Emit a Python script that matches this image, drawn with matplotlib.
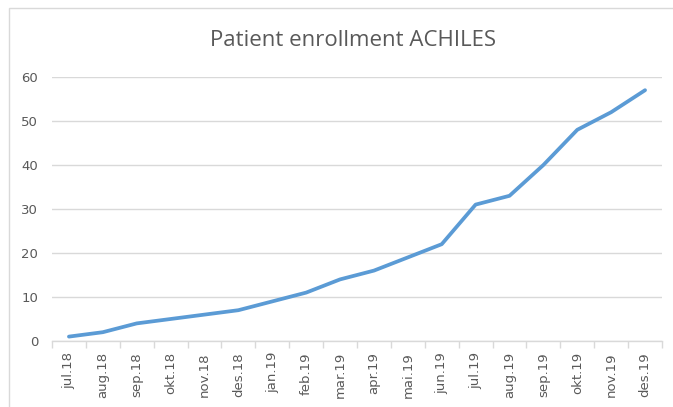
import matplotlib
matplotlib.use("Agg")
import matplotlib.pyplot as plt
import numpy as np
from matplotlib.patches import Rectangle

months = ["jul.18", "aug.18", "sep.18", "okt.18", "nov.18", "des.18",
          "jan.19", "feb.19", "mar.19", "apr.19", "mai.19", "jun.19",
          "jul.19", "aug.19", "sep.19", "okt.19", "nov.19", "des.19"]
patients = [1, 2, 4, 5, 6, 7, 9, 11, 14, 16, 19, 22, 31, 33, 40, 48, 52, 57]
yticks = [0, 10, 20, 30, 40, 50, 60]

W, H = 673, 407
fig = plt.figure(figsize=(W / 100, H / 100), dpi=100)
fig.patch.set_facecolor("white")

# chart border (Excel-like)
fig.add_artist(Rectangle((9 / W, -0.1), 1.2, 1 - 8 / H + 0.1, transform=fig.transFigure,
                         fill=False, edgecolor="#d9d9d9", linewidth=1.0))

left, right = 52, 662
top, bottom = 77, 341
ax = fig.add_axes([left / W, 1 - bottom / H, (right - left) / W, (bottom - top) / H])

x = np.arange(len(months))
ax.plot(x, patients, color="#5b9bd5", linewidth=2.7, solid_capstyle="round",
        solid_joinstyle="round", zorder=3)

ax.set_xlim(-0.5, len(months) - 0.5)
ax.set_ylim(0, 60)
ax.set_yticks(yticks)
ax.set_yticklabels([str(v) for v in yticks])
ax.yaxis.grid(True, color="#d9d9d9", linewidth=1.0)
ax.set_axisbelow(True)

ax.set_xticks(x)
ax.set_xticklabels(months, rotation=90)
ax.set_xticks(np.arange(len(months) + 1) - 0.5, minor=True)
ax.tick_params(axis="x", which="major", length=0, pad=8, labelsize=9.5, labelcolor="#595959")
ax.tick_params(axis="x", which="minor", length=5, color="#d9d9d9", width=1)
ax.tick_params(axis="y", length=0, pad=10, labelsize=9.5, labelcolor="#595959")

for s in ["left", "right", "top"]:
    ax.spines[s].set_visible(False)
ax.spines["bottom"].set_color("#d9d9d9")
ax.spines["bottom"].set_linewidth(1.0)

fig.text(353 / W, 1 - 41 / H, "Patient enrollment ACHILES", ha="center", va="center",
         fontsize=16, color="#595959", family="Open Sans")

fig.savefig("out.png", dpi=100, facecolor="white")
